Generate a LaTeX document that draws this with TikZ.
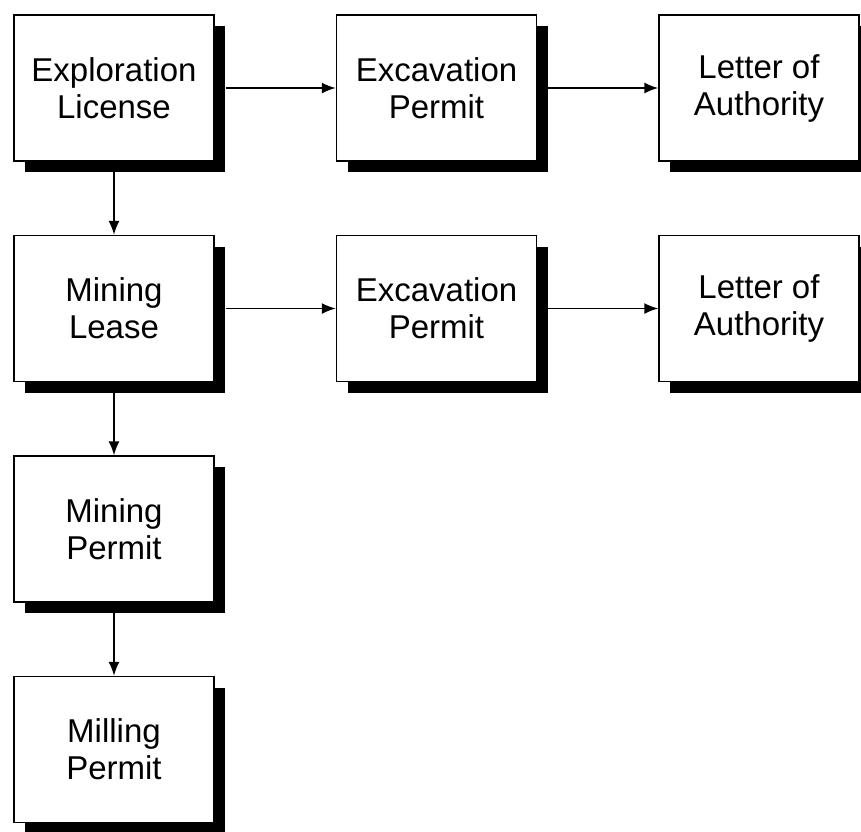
\documentclass[tikz,border=0pt]{standalone}
\usepackage{fontspec}
\setmainfont{Liberation Sans}
\usetikzlibrary{positioning,shadows,arrows.meta}
\colorlet{box edge}{black}
\colorlet{box shade}{black}
\tikzset{
  permit/.style={draw=box edge, line width=0.75pt, fill=white,
    minimum width=100pt, minimum height=73pt, inner sep=0pt, align=center,
    font=\fontsize{16.5}{18.5}\selectfont,
    drop shadow={shadow xshift=5.5pt, shadow yshift=-5.5pt, fill=box shade, opacity=1}},
  link/.style={draw, line width=0.75pt, -{Latex[length=7pt,width=5.5pt]}}
  }

\begin{document}
\begin{tikzpicture}[x=0.5pt,y=-0.5pt, node distance=36.5pt and 60.5pt]
   \useasboundingbox (0,0) rectangle (861,831);

   \node[permit] (explore) at (114,88) {Exploration\\License};
   \node[permit, right=of explore] (excavA) {Excavation\\Permit};
   \node[permit, right=of excavA] (letterA) {Letter of\\Authority};

   \node[permit, below=of explore] (lease) {Mining\\Lease};
   \node[permit, right=of lease] (excavB) {Excavation\\Permit};
   \node[permit, right=of excavB] (letterB) {Letter of\\Authority};

   \node[permit, below=of lease] (mining) {Mining\\Permit};
   \node[permit, below=of mining] (milling) {Milling\\Permit};

   % shadow sits on the right and below, so links start past it
   \path[link] (explore.east) ++(5.5pt,0) -- (excavA.west);
   \path[link] (excavA.east) ++(5.5pt,0) -- (letterA.west);
   \path[link] (lease.east) ++(5.5pt,0) -- (excavB.west);
   \path[link] (excavB.east) ++(5.5pt,0) -- (letterB.west);

   \path[link] (explore) -- (lease);
   \path[link] (lease) -- (mining);
   \path[link] (mining) -- (milling);
\end{tikzpicture}
\end{document}
